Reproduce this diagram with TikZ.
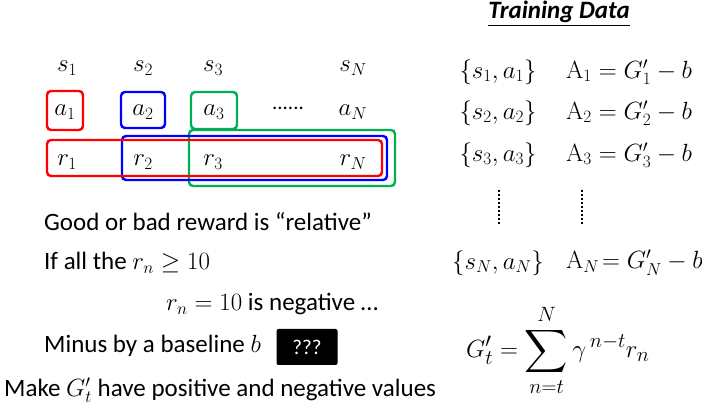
\documentclass[tikz,border=0pt]{standalone}
\usepackage{amsmath,amssymb}
\usepackage[no-math]{fontspec}
\setmainfont{Carlito}
\usepackage{tikz}
\definecolor{boxgreen}{RGB}{0,176,80}

\tikzset{
  txt/.style={font=\fontsize{25}{30}\selectfont, inner sep=0pt},
  mth/.style={font=\fontsize{25}{30}\selectfont, inner sep=0pt},
  abox/.style={draw, line width=2.4pt, rounded corners=4pt},
}

\begin{document}
\begin{tikzpicture}[x=1pt, y=-1pt]
    \useasboundingbox (0,0) rectangle (702,411);
    % states
    \node[mth] (s1) at (67, 68) {$s_1$};
    \node[mth] (s2) at (143, 68) {$s_2$};
    \node[mth] (s3) at (213, 68) {$s_3$};
    \node[mth] (sN) at (353, 68) {$s_N$};
    % actions
    \node[mth] (a1) at (65, 112) {$a_1$};
    \node[mth] (a2) at (143, 112) {$a_2$};
    \node[mth] (a3) at (214, 112) {$a_3$};
    \node[font=\fontsize{21}{25}\selectfont, inner sep=0pt] (ad) at (288, 108) {......};
    \node[mth] (aN) at (353, 112) {$a_N$};
    \draw[abox, red] (47, 91) rectangle (83, 130);
    \draw[abox, blue] (121, 92) rectangle (165, 128);
    \draw[abox, boxgreen] (191, 92) rectangle (237, 129);
    % rewards
    \node[mth] (r1) at (67, 162) {$r_1$};
    \node[mth] (r2) at (143, 162) {$r_2$};
    \node[mth] (r3) at (213, 162) {$r_3$};
    \node[mth] (rN) at (353, 162) {$r_N$};
    \draw[abox, boxgreen] (189, 130) rectangle (395, 186);
    \draw[abox, blue] (122, 136) rectangle (387, 180);
    \draw[abox, red] (47, 140) rectangle (382, 176);

    % left text
    \node[txt, anchor=west] (t1) at (44, 222) {Good or bad reward is “relative”};
    \node[txt, anchor=west] (t2) at (44, 263) {If all the $r_n \geq 10$};
    \node[txt, anchor=west] (t3) at (166, 304) {$r_n = 10$ is negative …};
    \node[txt, anchor=west] (t4) at (44, 346) {Minus by a baseline $b$};
    \node[fill=black, rounded corners=2pt, minimum width=61pt, minimum height=36pt,
          text=white, font=\fontsize{21}{25}\selectfont] (q) at (307, 347) {???};
    \node[txt, anchor=west] (t5) at (4, 390) {Make $G_t'$ have positive and negative values};

    % training data
    \node[txt, font=\fontsize{25}{30}\selectfont\bfseries\itshape] (td) at (559, 14) {\underline{Training Data}};
    \node[mth] (p1) at (498, 72) {$\{s_1, a_1\}$};
    \node[mth, anchor=west] (A1) at (566, 72) {$\mathrm{A}_1 = G_1' - b$};
    \node[mth] (p2) at (498, 113) {$\{s_2, a_2\}$};
    \node[mth, anchor=west] (A2) at (566, 113) {$\mathrm{A}_2 = G_2' - b$};
    \node[mth] (p3) at (498, 155) {$\{s_3, a_3\}$};
    \node[mth, anchor=west] (A3) at (566, 155) {$\mathrm{A}_3 = G_3' - b$};
    \draw[line width=2pt, dash pattern=on 2pt off 2pt] (499, 190) -- (499, 225);
    \draw[line width=2pt, dash pattern=on 2pt off 2pt] (582, 190) -- (582, 225);
    \node[mth] (pN) at (498, 263) {$\{s_N, a_N\}$};
    \node[mth, anchor=west] (AN) at (566, 263) {$\mathrm{A}_N\!= G_N' - b$};

    % discounted return
    \node[font=\fontsize{30}{36}\selectfont, anchor=west, inner sep=0pt] (G) at (466, 350)
      {$\displaystyle G_t' = \sum_{n=t}^{N} \gamma^{\,n-t} r_n$};
\end{tikzpicture}
\end{document}
